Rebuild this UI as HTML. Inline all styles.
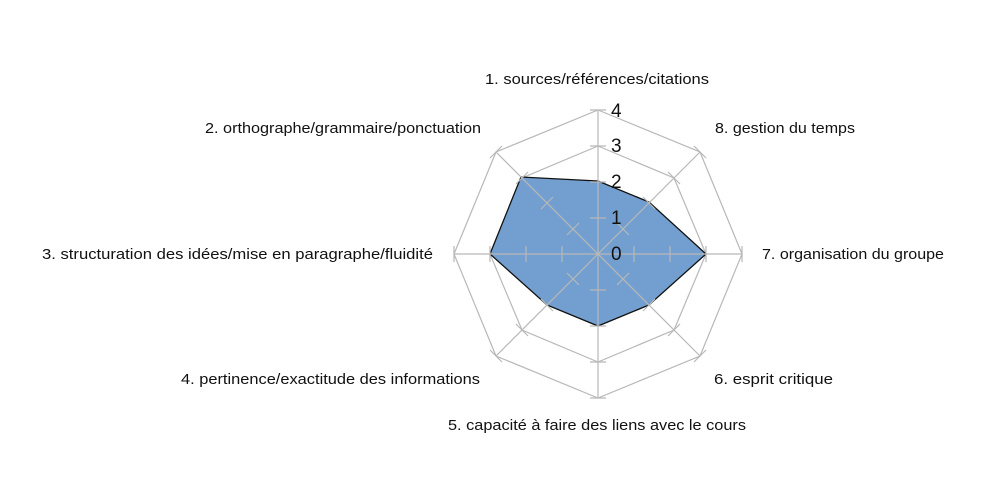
<!DOCTYPE html>
<html><head><meta charset="utf-8"><style>
html,body{margin:0;padding:0;background:#fff}
svg{display:block}
text{font-family:"Liberation Sans",sans-serif;fill:#111}
.l{font-size:15px}
.n{font-size:19px}
</style></head><body>
<svg width="997" height="487" viewBox="0 0 997 487" xmlns="http://www.w3.org/2000/svg">
<g fill="none" stroke="#b8b8b8" stroke-width="1.2">
<polygon points="598,110 700,152 742,254 700,356 598,398 496,356 454,254 496,152"/>
<polygon points="598,146 674,178 706,254 674,330 598,362 522,330 490,254 522,178"/>
<polygon points="598,182 649,203 670,254 649,305 598,326 547,305 526,254 547,203"/>
<polygon points="598,218 623,229 634,254 623,279 598,290 573,279 562,254 573,229"/>
</g>
<polygon points="598,181 649,202 706,254 649,305 598,326 547,305 490,254 521,177" fill="#729fcf" stroke="#111" stroke-width="1.3"/>
<g fill="none" stroke="#b8b8b8" stroke-width="1.2">
<line x1="598" y1="110" x2="598" y2="398"/>
<line x1="454" y1="254" x2="742" y2="254"/>
<line x1="496" y1="152" x2="700" y2="356"/>
<line x1="700" y1="152" x2="496" y2="356"/>
<path d="M590,218h16M590,182h16M590,146h16M590,110h16M590,290h16M590,326h16M590,362h16M590,398h16"/>
<path d="M562,246v16M526,246v16M490,246v16M454,246v16M634,246v16M670,246v16M706,246v16M742,246v16"/>
<path d="M567,235l12,-12M541,209l12,-12M516,184l12,-12M490,158l12,-12"/>
<path d="M617,285l12,-12M643,311l12,-12M668,336l12,-12M694,362l12,-12"/>
<path d="M629,235l-12,-12M655,209l-12,-12M680,184l-12,-12M706,158l-12,-12"/>
<path d="M567,273l12,12M541,299l12,12M516,324l12,12M490,350l12,12"/>
</g>
<text class="n" x="611" y="117">4</text>
<text class="n" x="611" y="152">3</text>
<text class="n" x="611" y="188">2</text>
<text class="n" x="611" y="224">1</text>
<text class="n" x="611" y="260">0</text>
<text class="l" x="485" y="84" textLength="224" lengthAdjust="spacingAndGlyphs">1. sources/références/citations</text>
<text class="l" x="205" y="133" textLength="276" lengthAdjust="spacingAndGlyphs">2. orthographe/grammaire/ponctuation</text>
<text class="l" x="42" y="259" textLength="391" lengthAdjust="spacingAndGlyphs">3. structuration des idées/mise en paragraphe/fluidité</text>
<text class="l" x="181" y="384" textLength="299" lengthAdjust="spacingAndGlyphs">4. pertinence/exactitude des informations</text>
<text class="l" x="448" y="430" textLength="298" lengthAdjust="spacingAndGlyphs">5. capacité à faire des liens avec le cours</text>
<text class="l" x="714" y="384" textLength="119" lengthAdjust="spacingAndGlyphs">6. esprit critique</text>
<text class="l" x="762" y="259" textLength="182" lengthAdjust="spacingAndGlyphs">7. organisation du groupe</text>
<text class="l" x="715" y="133" textLength="140" lengthAdjust="spacingAndGlyphs">8. gestion du temps</text>
</svg>
</body></html>
